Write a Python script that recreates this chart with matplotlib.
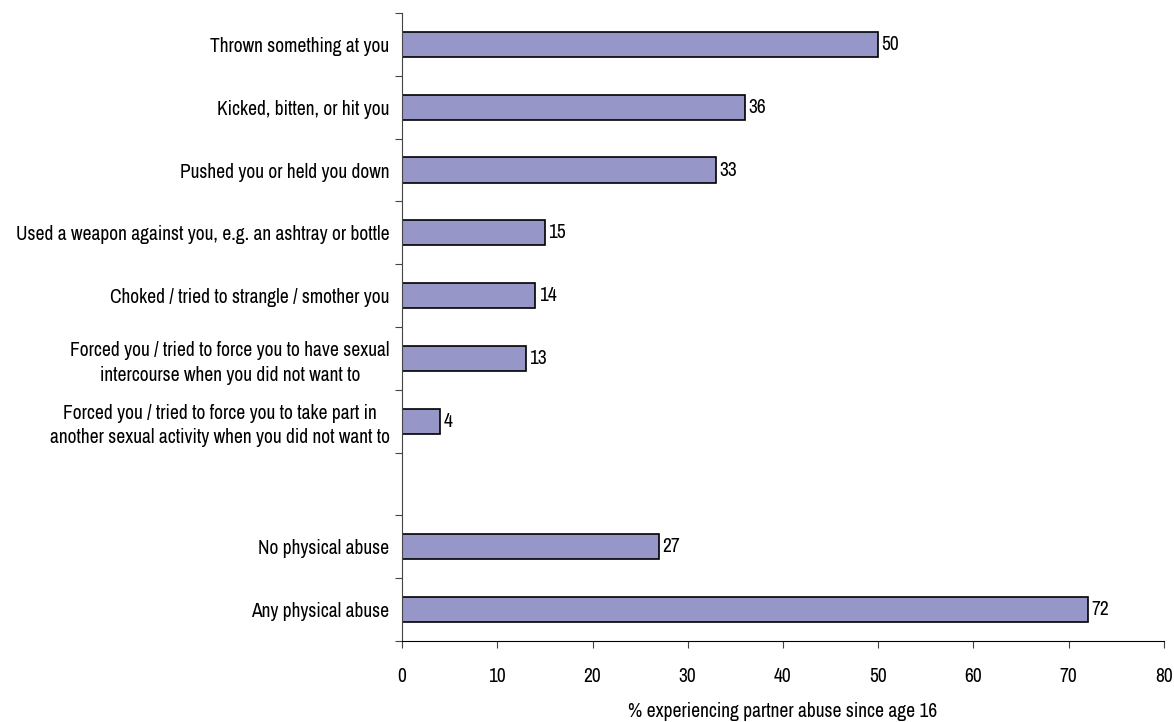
import matplotlib
matplotlib.use("Agg")
import matplotlib.pyplot as plt
import numpy as np

plt.rcParams['font.family'] = ['Liberation Sans Narrow', 'Archivo Narrow', 'Roboto Condensed', 'DejaVu Sans']

# top to bottom; empty string = gap slot
labels = ["Thrown something at you",
          "Kicked, bitten, or hit you",
          "Pushed you or held you down",
          "Used a weapon against you, e.g. an ashtray or bottle",
          "Choked / tried to strangle / smother you",
          "Forced you / tried to force you to have sexual\nintercourse when you did not want to",
          "Forced you / tried to force you to take part in\nanother sexual activity when you did not want to",
          "",
          "No physical abuse",
          "Any physical abuse"]
values = [50, 36, 33, 15, 14, 13, 4, None, 27, 72]
xticks = [0, 10, 20, 30, 40, 50, 60, 70, 80]
xlabel = "% experiencing partner abuse since age 16"

fs = 14

fig = plt.figure(figsize=(11.74, 7.22), dpi=100)
ax = fig.add_axes([402/1174, 1-641/722, (1164-402)/1174, (641-13)/722])

n = len(labels)
ypos = np.arange(n)
for y, v in zip(ypos, values):
    if v is None:
        continue
    ax.barh(y, v, height=0.4, color='#9696C8', edgecolor='black', linewidth=1.2)
    ax.text(v + 0.35, y, str(v), va='center', ha='left', fontsize=fs)

ax.set_ylim(n - 0.5, -0.5)
ax.set_xlim(0, 80)
ax.set_xticks(xticks)
ax.set_xticklabels([str(t) for t in xticks], fontsize=fs)
ax.set_yticks(ypos)
ax.set_yticklabels(labels, fontsize=fs)
ax.tick_params(axis='y', which='major', length=0, pad=9)
ax.set_yticks(np.arange(n + 1) - 0.5, minor=True)
ax.tick_params(axis='y', which='minor', length=5, width=0.8, color='#444444', direction='out')
ax.tick_params(axis='x', length=5, width=0.8, color='#444444', direction='out', pad=14)
for lab in ax.get_yticklabels():
    lab.set_multialignment('center')
    lab.set_linespacing(1.35)

ax.spines['top'].set_visible(False)
ax.spines['right'].set_visible(False)
ax.spines['left'].set_color('#444444')
ax.spines['bottom'].set_color('black')
ax.set_xlabel(xlabel, fontsize=fs, labelpad=11)

fig.savefig("out.png", dpi=100)
